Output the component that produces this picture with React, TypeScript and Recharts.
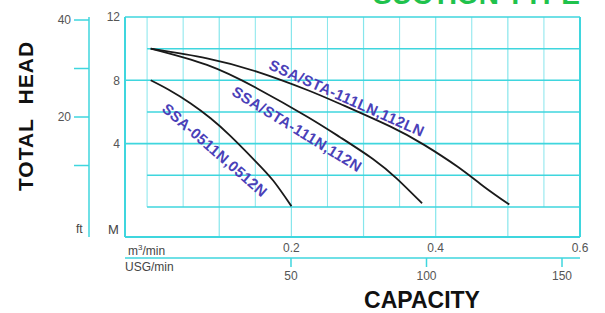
import React from 'react';
import {
  LineChart,
  Line,
  XAxis,
  YAxis,
  ReferenceLine,
  ReferenceDot,
} from 'recharts';

// pump curves, capacity in m3/min vs head in M
const curve0511 = [
  { q: 0.005, h: 8.0 },
  { q: 0.03, h: 7.4 },
  { q: 0.06, h: 6.55 },
  { q: 0.088, h: 5.6 },
  { q: 0.115, h: 4.5 },
  { q: 0.15, h: 2.9 },
  { q: 0.175, h: 1.65 },
  { q: 0.2, h: 0.05 },
];

const curve111N = [
  { q: 0.005, h: 10.0 },
  { q: 0.083, h: 8.97 },
  { q: 0.152, h: 7.5 },
  { q: 0.222, h: 5.7 },
  { q: 0.267, h: 4.42 },
  { q: 0.313, h: 3.03 },
  { q: 0.3465, h: 1.77 },
  { q: 0.381, h: 0.23 },
];

const curve111LN = [
  { q: 0.005, h: 10.0 },
  { q: 0.083, h: 9.39 },
  { q: 0.152, h: 8.55 },
  { q: 0.222, h: 7.39 },
  { q: 0.268, h: 6.5 },
  { q: 0.3375, h: 5.07 },
  { q: 0.384, h: 3.92 },
  { q: 0.43, h: 2.55 },
  { q: 0.467, h: 1.28 },
  { q: 0.502, h: 0.15 },
];

// curve names and where they sit (q, h, angle)
const curveLabels = [
  { text: 'SSA/STA-111LN,112LN', q: 0.277, h: 6.89, angle: 24 },
  { text: 'SSA/STA-111N,112N', q: 0.208, h: 4.93, angle: 31.5 },
  { text: 'SSA-0511N,0512N', q: 0.094, h: 3.6, angle: 41 },
];

const m3Ticks = [0.2, 0.4, 0.6];
const usgTicks = [50, 100, 150];
const meterTicks = [4, 8, 12];
const feetTicks = [10, 20, 30, 40];
const feetLabelled = [20, 40];

// grid
const fullRows = [12, 8, 4];
const shortRows = [10, 6, 2, 0];
const fullCols = [0.1, 0.2, 0.3, 0.4, 0.5];
const shortCols = [0, 0.05, 0.15, 0.25, 0.35, 0.45, 0.55];

const Q_DOMAIN: [number, number] = [-0.0306, 0.6];
const USG_DOMAIN: [number, number] = [-11.25, 156.64];
const M_DOMAIN: [number, number] = [-1.9, 12];
const FT_DOMAIN: [number, number] = [-4.74, 40.62];

const CYAN = '#3fd6de';
const CYAN_LIGHT = '#86e6ec';
const FONT = 'Liberation Sans, Arial, sans-serif';
const TICK_TEXT = { fontSize: 12, fill: '#555', fontFamily: FONT };

// gives the USG and ft axes something to belong to
const usgAnchor = usgTicks.map((u) => ({ u, h: null }));
const ftAnchor = feetTicks.map((f) => ({ q: 0, f: null }));

function CurveLabel(props: any) {
  const { viewBox, text, angle } = props;
  if (!viewBox) return null;
  const cx = viewBox.x + viewBox.width / 2;
  const cy = viewBox.y + viewBox.height / 2;
  return (
    <text
      x={cx}
      y={cy}
      transform={`rotate(${angle} ${cx} ${cy})`}
      textAnchor="middle"
      dominantBaseline="central"
      fontSize={15}
      fontWeight="bold"
      letterSpacing={0.4}
      fontFamily={FONT}
      fill="#4a40b8"
    >
      {text}
    </text>
  );
}

const txt: React.CSSProperties = {
  position: 'absolute',
  fontFamily: FONT,
  whiteSpace: 'nowrap',
  lineHeight: 1,
};

export default function App() {
  // axis ids sort so that metres sit next to the plot and feet outside it
  const ax = { xAxisId: 'm3', yAxisId: 'aM' };
  return (
    <div
      style={{
        position: 'absolute',
        left: 0,
        top: 0,
        width: 605,
        height: 313,
        overflow: 'hidden',
        background: '#fff',
      }}
    >
      <div style={{ ...txt, right: 25, top: -18, fontSize: 28, fontWeight: 'bold', color: '#1fc24c', lineHeight: '26px' }}>
        SUCTION TYPE
      </div>

      <LineChart width={605} height={313} margin={{ top: 17, right: 25, bottom: 25, left: 39 }}>
        <XAxis
          xAxisId="m3"
          type="number"
          dataKey="q"
          domain={Q_DOMAIN}
          allowDataOverflow
          ticks={m3Ticks}
          axisLine={false}
          tickLine={false}
          tickSize={6}
          tickMargin={0}
          height={21}
          tick={TICK_TEXT}
        />
        <XAxis
          xAxisId="usg"
          type="number"
          dataKey="u"
          domain={USG_DOMAIN}
          allowDataOverflow
          ticks={usgTicks}
          axisLine={{ stroke: CYAN, strokeWidth: 1.5 }}
          tickLine={{ stroke: CYAN, strokeWidth: 1.5 }}
          tickSize={9}
          tickMargin={4}
          height={30}
          tick={TICK_TEXT}
        />
        <YAxis
          yAxisId="aM"
          type="number"
          domain={M_DOMAIN}
          allowDataOverflow
          ticks={meterTicks}
          axisLine={false}
          tickLine={false}
          tickSize={5}
          tickMargin={0}
          width={36}
          tick={TICK_TEXT}
        />
        <YAxis
          yAxisId="ft"
          type="number"
          dataKey="f"
          domain={FT_DOMAIN}
          allowDataOverflow
          ticks={feetTicks}
          tickFormatter={(v: number) => (feetLabelled.includes(v) ? String(v) : '')}
          axisLine={{ stroke: CYAN, strokeWidth: 1.5 }}
          tickLine={{ stroke: CYAN, strokeWidth: 1.5 }}
          tickSize={15}
          tickMargin={3}
          width={50}
          tick={TICK_TEXT}
        />

        {shortCols.map((q) => (
          <ReferenceLine
            key={`sc${q}`}
            {...ax}
            segment={[{ x: q, y: 0 }, { x: q, y: 12 }]}
            stroke={CYAN_LIGHT}
            strokeWidth={1}
          />
        ))}
        {fullCols.map((q) => (
          <ReferenceLine key={`fc${q}`} {...ax} x={q} stroke={CYAN_LIGHT} strokeWidth={1.2} />
        ))}
        {shortRows.map((h) => (
          <ReferenceLine
            key={`sr${h}`}
            {...ax}
            segment={[{ x: 0, y: h }, { x: 0.6, y: h }]}
            stroke={CYAN}
            strokeWidth={1.5}
          />
        ))}
        {fullRows.map((h) => (
          <ReferenceLine key={`fr${h}`} {...ax} y={h} stroke={CYAN} strokeWidth={1.6} />
        ))}
        <ReferenceLine {...ax} y={M_DOMAIN[0]} stroke={CYAN} strokeWidth={2} />
        <ReferenceLine {...ax} x={Q_DOMAIN[0]} stroke={CYAN} strokeWidth={2} />
        <ReferenceLine {...ax} x={Q_DOMAIN[1]} stroke={CYAN} strokeWidth={2} />

        <Line
          xAxisId="usg"
          yAxisId="aM"
          data={usgAnchor}
          dataKey="h"
          stroke="none"
          dot={false}
          activeDot={false}
          legendType="none"
          isAnimationActive={false}
        />
        <Line
          xAxisId="m3"
          yAxisId="ft"
          data={ftAnchor}
          dataKey="f"
          stroke="none"
          dot={false}
          activeDot={false}
          legendType="none"
          isAnimationActive={false}
        />

        {[curve0511, curve111N, curve111LN].map((d, i) => (
          <Line
            key={i}
            {...ax}
            data={d}
            dataKey="h"
            type="natural"
            stroke="#1a1a1a"
            strokeWidth={1.8}
            dot={false}
            activeDot={false}
            isAnimationActive={false}
          />
        ))}

        {curveLabels.map((l) => (
          <ReferenceDot
            key={l.text}
            {...ax}
            x={l.q}
            y={l.h}
            r={1}
            fill="none"
            stroke="none"
            label={{ content: (p: any) => <CurveLabel {...p} text={l.text} angle={l.angle} /> }}
          />
        ))}
      </LineChart>

      <div
        style={{
          ...txt,
          left: 25,
          top: 116,
          fontSize: 21,
          fontWeight: 'bold',
          letterSpacing: 1,
          color: '#111',
          transform: 'translate(-50%, -50%) rotate(-90deg)',
        }}
      >
        TOTAL&nbsp;&nbsp;HEAD
      </div>
      <div
        style={{
          ...txt,
          left: 422,
          top: 290,
          fontSize: 23,
          lineHeight: '20px',
          fontWeight: 'bold',
          color: '#111',
          transform: 'translateX(-50%)',
        }}
      >
        CAPACITY
      </div>
      <div style={{ ...txt, left: 76, top: 223, fontSize: 12, color: '#444' }}>ft</div>
      <div style={{ ...txt, left: 108, top: 223, fontSize: 13, color: '#444' }}>M</div>
      <div style={{ ...txt, left: 128, top: 244, fontSize: 12, color: '#444' }}>
        m<sup style={{ fontSize: 8 }}>3</sup>/min
      </div>
      <div style={{ ...txt, left: 125, top: 261, fontSize: 12, color: '#444' }}>USG/min</div>
    </div>
  );
}
